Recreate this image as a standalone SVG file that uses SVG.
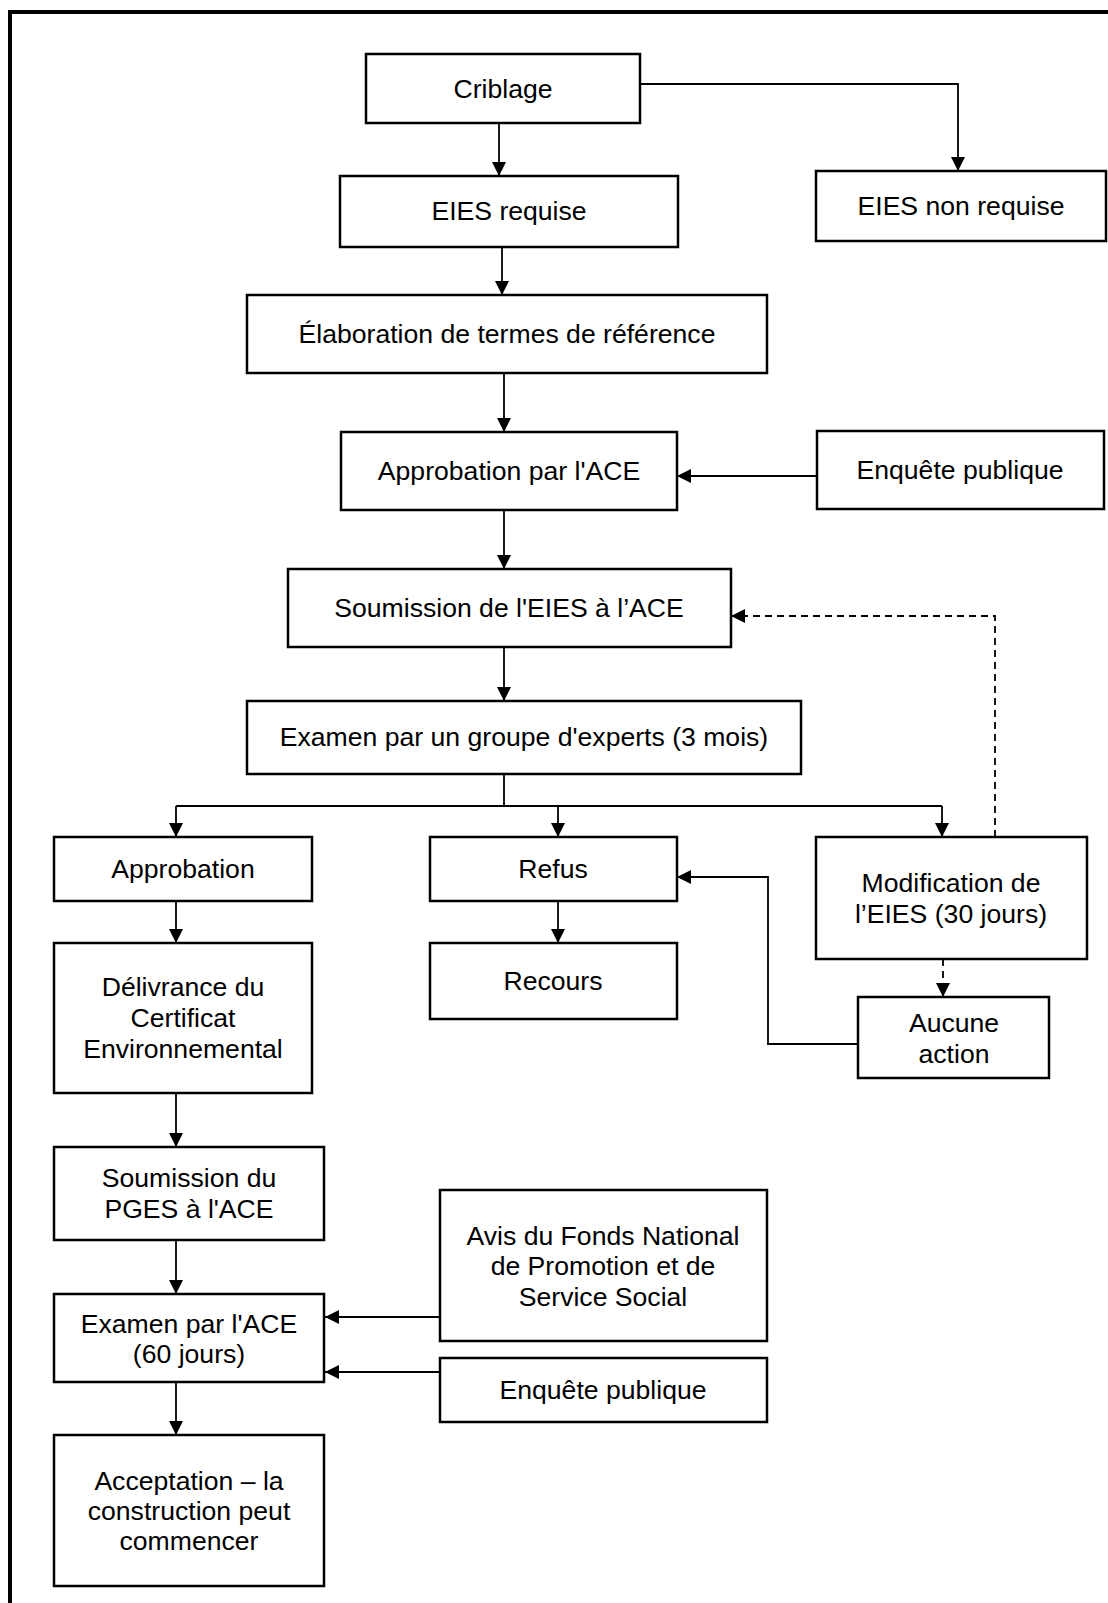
<svg xmlns="http://www.w3.org/2000/svg" width="1108" height="1603" viewBox="0 0 1108 1603">
<style>
.box{fill:#fff;stroke:#000;stroke-width:2.5}
.t{font-family:"Liberation Sans",Arial,sans-serif;font-size:26.6px;fill:#000;text-anchor:middle}
.c{fill:none;stroke:#000;stroke-width:1.8}
.a{marker-end:url(#ah)}
.d{stroke-dasharray:7 5}
</style>
<defs>
<marker id="ah" viewBox="0 0 14 15" refX="14" refY="7.5" markerWidth="14" markerHeight="15" markerUnits="userSpaceOnUse" orient="auto">
<path d="M0,0.5 L14,7.5 L0,14.5 z" fill="#000"/>
</marker>
</defs>
<rect width="1108" height="1603" fill="#fff"/>
<path d="M1112,12 H10 V1612" fill="none" stroke="#000" stroke-width="4"/>

<g id="connectors">
<path class="c a" d="M499,123 V176"/>
<path class="c a" d="M640,84 H958 V171"/>
<path class="c a" d="M502,247 V295"/>
<path class="c a" d="M504,373 V432"/>
<path class="c a" d="M817,476 H677"/>
<path class="c a" d="M504,510 V569"/>
<path class="c a d" d="M995,837 V616 H731"/>
<path class="c a" d="M504,647 V701"/>
<path class="c" d="M504,774 V806 M176,806 H942"/>
<path class="c a" d="M176,806 V837"/>
<path class="c a" d="M558,806 V837"/>
<path class="c a" d="M942,806 V837"/>
<path class="c a" d="M176,901 V943"/>
<path class="c a" d="M558,901 V943"/>
<path class="c a d" d="M943,959 V997"/>
<path class="c a" d="M858,1044 H768 V877 H677"/>
<path class="c a" d="M176,1093 V1147"/>
<path class="c a" d="M176,1240 V1294"/>
<path class="c a" d="M440,1317 H325"/>
<path class="c a" d="M440,1372 H325"/>
<path class="c a" d="M176,1382 V1435"/>
</g>

<g id="criblage"><rect class="box" x="366" y="54" width="274" height="69"/><text class="t" x="503" y="98">Criblage</text></g>
<g id="eies-requise"><rect class="box" x="340" y="176" width="338" height="71"/><text class="t" x="509" y="220">EIES requise</text></g>
<g id="eies-non-requise"><rect class="box" x="816" y="171" width="290" height="70"/><text class="t" x="961" y="215">EIES non requise</text></g>
<g id="elaboration"><rect class="box" x="247" y="295" width="520" height="78"/><text class="t" x="507" y="343">Élaboration de termes de référence</text></g>
<g id="approbation-ace"><rect class="box" x="341" y="432" width="336" height="78"/><text class="t" x="509" y="480">Approbation par l'ACE</text></g>
<g id="enquete-1"><rect class="box" x="817" y="431" width="287" height="78"/><text class="t" x="960" y="479">Enquête publique</text></g>
<g id="soumission-eies"><rect class="box" x="288" y="569" width="443" height="78"/><text class="t" x="509" y="617">Soumission de l'EIES à l’ACE</text></g>
<g id="examen-groupe"><rect class="box" x="247" y="701" width="554" height="73"/><text class="t" x="524" y="746">Examen par un groupe d'experts (3 mois)</text></g>
<g id="approbation"><rect class="box" x="54" y="837" width="258" height="64"/><text class="t" x="183" y="878">Approbation</text></g>
<g id="refus"><rect class="box" x="430" y="837" width="247" height="64"/><text class="t" x="553" y="878">Refus</text></g>
<g id="modification"><rect class="box" x="816" y="837" width="271" height="122"/><text class="t" x="951" y="892">Modification de</text><text class="t" x="951" y="923">l’EIES (30 jours)</text></g>
<g id="recours"><rect class="box" x="430" y="943" width="247" height="76"/><text class="t" x="553" y="990">Recours</text></g>
<g id="aucune"><rect class="box" x="858" y="997" width="191" height="81"/><text class="t" x="954" y="1032">Aucune</text><text class="t" x="954" y="1063">action</text></g>
<g id="delivrance"><rect class="box" x="54" y="943" width="258" height="150"/><text class="t" x="183" y="996">Délivrance du</text><text class="t" x="183" y="1027">Certificat</text><text class="t" x="183" y="1058">Environnemental</text></g>
<g id="soumission-pges"><rect class="box" x="54" y="1147" width="270" height="93"/><text class="t" x="189" y="1187">Soumission du</text><text class="t" x="189" y="1218">PGES à l'ACE</text></g>
<g id="avis-fonds"><rect class="box" x="440" y="1190" width="327" height="151"/><text class="t" x="603" y="1245">Avis du Fonds National</text><text class="t" x="603" y="1275">de Promotion et de</text><text class="t" x="603" y="1306">Service Social</text></g>
<g id="examen-ace"><rect class="box" x="54" y="1294" width="270" height="88"/><text class="t" x="189" y="1333">Examen par l'ACE</text><text class="t" x="189" y="1363">(60 jours)</text></g>
<g id="enquete-2"><rect class="box" x="440" y="1358" width="327" height="64"/><text class="t" x="603" y="1399">Enquête publique</text></g>
<g id="acceptation"><rect class="box" x="54" y="1435" width="270" height="151"/><text class="t" x="189" y="1490">Acceptation – la</text><text class="t" x="189" y="1520">construction peut</text><text class="t" x="189" y="1550">commencer</text></g>
</svg>
